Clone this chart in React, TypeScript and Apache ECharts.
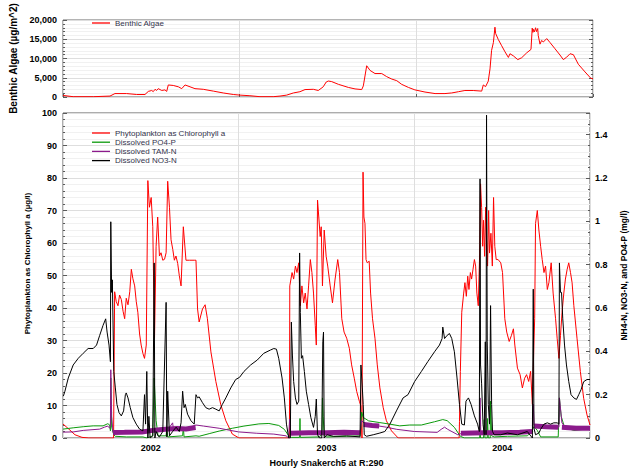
import React, { useEffect, useRef } from 'react';
import * as echarts from 'echarts';

type Pt = [number, number | string];

const yearLabels = ['2002', '2003', '2004'];

const benthicAlgae: Pt[] = [
  [2002.000, 410], [2002.058, 80], [2002.172, 80], [2002.266, 240], [2002.294, 890], [2002.360, 890],
  [2002.417, 650], [2002.464, 650], [2002.483, 1450], [2002.502, 1690], [2002.511, 1400], [2002.521, 2000],
  [2002.530, 1700], [2002.539, 2170], [2002.559, 1700], [2002.577, 1850], [2002.587, 1450], [2002.596, 3130],
  [2002.624, 3000], [2002.653, 2650], [2002.672, 2170], [2002.691, 3130], [2002.719, 2650], [2002.747, 2170],
  [2002.794, 2000], [2002.851, 1530], [2002.907, 1050], [2002.964, 650], [2003.002, 490], [2003.058, 330],
  [2003.115, 80], [2003.190, 80], [2003.228, 240], [2003.266, 490], [2003.304, 1050], [2003.341, 1370],
  [2003.370, 1930], [2003.417, 2000], [2003.445, 1690], [2003.473, 2650], [2003.490, 3900], [2003.502, 4150],
  [2003.521, 4000], [2003.559, 3290], [2003.615, 2490], [2003.653, 2100], [2003.691, 1930], [2003.700, 2890],
  [2003.719, 8120], [2003.738, 6910], [2003.766, 6100], [2003.804, 6100], [2003.832, 5300], [2003.861, 4660],
  [2003.889, 4250], [2003.917, 3290], [2003.955, 2490], [2003.992, 1850], [2004.049, 1290], [2004.106, 890],
  [2004.162, 890], [2004.200, 1050], [2004.238, 1370], [2004.275, 1690], [2004.322, 1690], [2004.370, 1530],
  [2004.379, 3130], [2004.392, 2700], [2004.407, 4100], [2004.417, 7300], [2004.426, 12120], [2004.436, 14130],
  [2004.445, 18150], [2004.449, 16500], [2004.464, 14940], [2004.483, 13330], [2004.502, 11730], [2004.521, 10280],
  [2004.530, 11250], [2004.549, 10700], [2004.574, 9720], [2004.596, 10200], [2004.625, 11490], [2004.649, 12370],
  [2004.656, 17900], [2004.660, 16800], [2004.662, 17600], [2004.668, 16900], [2004.675, 18000], [2004.680, 17000],
  [2004.687, 17800], [2004.690, 16000], [2004.700, 13740], [2004.709, 14700], [2004.719, 14300], [2004.738, 15180],
  [2004.757, 14140], [2004.785, 12530], [2004.813, 10920], [2004.832, 9720], [2004.851, 10360], [2004.870, 11250],
  [2004.889, 11000], [2004.917, 8510], [2004.955, 6510], [2004.987, 4900], [2005.000, 4700],
];

const phytoplankton: Pt[] = [
  [2002.000, 4.3], [2002.028, 3.0], [2002.068, 1.0], [2002.108, 0.2], [2002.147, 0], [2002.288, 0],
  [2002.294, 45], [2002.303, 42], [2002.313, 40.7], [2002.322, 44], [2002.332, 42.6], [2002.342, 39],
  [2002.351, 36.7], [2002.360, 43], [2002.370, 41], [2002.380, 45], [2002.389, 51.9], [2002.398, 49],
  [2002.408, 46.8], [2002.417, 42], [2002.426, 38.7], [2002.436, 32], [2002.445, 28.6], [2002.455, 26],
  [2002.464, 24.5], [2002.474, 28.6], [2002.483, 79.2], [2002.492, 71], [2002.502, 74], [2002.511, 65],
  [2002.521, 30.7], [2002.530, 59], [2002.539, 68], [2002.549, 56], [2002.558, 57], [2002.568, 54.7],
  [2002.578, 55], [2002.587, 57], [2002.596, 79], [2002.606, 71], [2002.615, 61], [2002.625, 58],
  [2002.634, 54.7], [2002.643, 56], [2002.653, 53.7], [2002.662, 50], [2002.672, 46.8], [2002.685, 65],
  [2002.700, 54.7], [2002.719, 54.7], [2002.747, 54.7], [2002.757, 54.7], [2002.766, 39.7], [2002.775, 35.7],
  [2002.794, 39.7], [2002.809, 41], [2002.822, 36.7], [2002.842, 26.5], [2002.870, 17.4], [2002.898, 10.3],
  [2002.927, 5.3], [2002.964, 1.2], [2003.002, 0],
  [2003.289, 0], [2003.291, 46.8], [2003.304, 50.9], [2003.313, 48.9], [2003.323, 52.9], [2003.332, 50.9],
  [2003.342, 53.9], [2003.351, 40.7], [2003.360, 46.8], [2003.370, 41.6], [2003.379, 44.6], [2003.389, 39.7],
  [2003.398, 46.8], [2003.408, 54.9], [2003.417, 50.9], [2003.426, 44.6], [2003.436, 34.7], [2003.442, 28.6],
  [2003.449, 73.2], [2003.456, 68], [2003.464, 62], [2003.470, 65], [2003.477, 46.8], [2003.487, 64],
  [2003.498, 55.9], [2003.507, 52.9], [2003.521, 46.8], [2003.534, 41.6], [2003.549, 48.9], [2003.564, 54.9],
  [2003.574, 50.9], [2003.587, 36.7], [2003.600, 32.6], [2003.615, 30.7], [2003.630, 27.6], [2003.643, 22.5],
  [2003.658, 18.4], [2003.672, 14.3], [2003.687, 11.3], [2003.696, 9.8], [2003.702, 0], [2003.708, 81.8],
  [2003.713, 68], [2003.719, 66], [2003.725, 54.9], [2003.732, 53.9], [2003.743, 54.4], [2003.751, 44.6],
  [2003.762, 36.7], [2003.776, 30.7], [2003.789, 22.5], [2003.804, 15.4], [2003.823, 9.3], [2003.841, 5.3],
  [2003.870, 2.2], [2003.908, 0],
  [2004.255, 0], [2004.257, 5], [2004.262, 20.5], [2004.270, 38.7], [2004.281, 44.6], [2004.288, 47.8],
  [2004.296, 43.6], [2004.304, 49.8], [2004.311, 45.7], [2004.319, 50.9], [2004.326, 48.9], [2004.334, 51.9],
  [2004.342, 54.9], [2004.349, 52.9], [2004.356, 44.6], [2004.364, 40.7], [2004.372, 56.9], [2004.377, 78.2],
  [2004.383, 71], [2004.389, 59], [2004.394, 67], [2004.400, 55.9], [2004.406, 71], [2004.411, 61],
  [2004.417, 52.9], [2004.423, 70], [2004.428, 56.9], [2004.436, 63], [2004.444, 52.9], [2004.451, 74],
  [2004.458, 59], [2004.466, 54.9], [2004.477, 54.9], [2004.492, 53.9], [2004.502, 50.9], [2004.515, 36.7],
  [2004.526, 32.6], [2004.540, 29.7], [2004.553, 31.6], [2004.564, 33.6], [2004.572, 28.6], [2004.587, 21.5],
  [2004.602, 19.5], [2004.615, 15.4], [2004.628, 18.4], [2004.639, 19.5], [2004.651, 17.4], [2004.662, 20.5],
  [2004.672, 10.3], [2004.677, 21.5], [2004.685, 36.7], [2004.690, 66], [2004.700, 70], [2004.709, 64],
  [2004.719, 59], [2004.728, 54.9], [2004.738, 50.9], [2004.747, 52.9], [2004.757, 45.7], [2004.766, 47.8],
  [2004.779, 53.9], [2004.790, 44.6], [2004.804, 36.7], [2004.813, 30.7], [2004.823, 24.5], [2004.832, 31.6],
  [2004.841, 38.7], [2004.851, 44.6], [2004.860, 48.9], [2004.870, 51.9], [2004.879, 53.9], [2004.889, 50.9],
  [2004.898, 47.8], [2004.908, 40.7], [2004.926, 30.7], [2004.945, 20.5], [2004.964, 12.2], [2004.983, 7.1],
  [2005.000, 4.0],
];

const po4P: Pt[] = [
  [2002.000, 0.041], [2002.058, 0.047], [2002.115, 0.052], [2002.172, 0.056], [2002.228, 0.056], [2002.255, 0.066],
  [2002.266, 0.06], [2002.270, 0.033], [2002.272, 0.277], [2002.277, 0.05], [2002.289, 0.015], [2002.298, 0.008],
  [2002.360, 0.005], [2002.455, 0.005], [2002.477, 0], [2002.511, 0.01], [2002.519, 0.277], [2002.530, 0.08],
  [2002.541, 0.01], [2002.587, 0.01], [2002.591, 0.05], [2002.596, 0.005], [2002.681, 0.01], [2002.685, 0.05],
  [2002.689, 0.005], [2002.757, 0.01], [2002.775, 0.008], [2002.832, 0.02], [2002.889, 0.032], [2002.964, 0.045],
  [2003.030, 0.055], [2003.115, 0.065], [2003.172, 0.067], [2003.228, 0.058], [2003.260, 0.04], [2003.285, 0.01],
  [2003.300, 0.003], [2003.347, 0.003], [2003.349, 0.09], [2003.351, 0.003], [2003.460, 0.005], [2003.475, 0.02],
  [2003.477, 0.185], [2003.481, 0.1], [2003.487, 0.01], [2003.502, 0.005], [2003.615, 0.008], [2003.691, 0.01],
  [2003.696, 0.05], [2003.700, 0.12], [2003.709, 0.095], [2003.740, 0.079], [2003.804, 0.071], [2003.861, 0.064],
  [2003.917, 0.056], [2003.974, 0.06], [2004.040, 0.06], [2004.115, 0.075], [2004.162, 0.085], [2004.187, 0.08],
  [2004.228, 0.049], [2004.262, 0.008], [2004.285, 0], [2004.372, 0], [2004.374, 0.07], [2004.377, 0],
  [2004.394, 0], [2004.398, 0.085], [2004.402, 0], [2004.415, 0], [2004.417, 0.09], [2004.421, 0],
  [2004.432, 0], [2004.434, 0.17], [2004.440, 0.01], [2004.455, 0.005], [2004.530, 0.008], [2004.643, 0.01],
  [2004.670, 0.03], [2004.677, 0.05], [2004.690, 0.045], [2004.700, 0.035], [2004.719, 0.005], [2004.819, 0.005],
  [2004.826, 0.185], [2004.836, 0.1], [2004.851, 0.06], [2004.870, 0.045], [2004.908, 0.035], [2004.964, 0.04],
  [2005.000, 0.04],
];

const tamN: Pt[] = [
  [2002.000, 0.027], [2002.058, 0.028], [2002.115, 0.035], [2002.209, 0.041], [2002.236, 0.05], [2002.255, 0.055],
  [2002.266, 0.045], [2002.270, 0.06], [2002.272, 0.315], [2002.277, 0.1], [2002.285, 0.025], [2002.400, 0.025],
  [2002.500, 0.033], [2002.550, 0.04], [2002.600, 0.042], [2002.624, 0.07], [2002.628, 0.045], [2002.700, 0.042],
  [2002.757, 0.06], [2002.800, 0.055], [2002.889, 0.045], [2003.000, 0.028], [2003.100, 0.022], [2003.200, 0.018],
  [2003.270, 0.01], [2003.285, 0.0], [2003.290, 0.087], [2003.296, 0.03], [2003.400, 0.022], [2003.500, 0.022],
  [2003.600, 0.024], [2003.690, 0.02], [2003.700, 0.08], [2003.712, 0.07], [2003.760, 0.06], [2003.800, 0.055],
  [2003.840, 0.05], [2003.900, 0.04], [2004.000, 0.03], [2004.130, 0.026], [2004.153, 0.04], [2004.172, 0.05],
  [2004.190, 0.04], [2004.247, 0.015], [2004.265, 0.02], [2004.372, 0.022], [2004.374, 0.185], [2004.378, 0.03],
  [2004.500, 0.022], [2004.600, 0.025], [2004.672, 0.028], [2004.677, 0.155], [2004.682, 0.06], [2004.750, 0.052],
  [2004.823, 0.05], [2004.826, 0.185], [2004.840, 0.07], [2004.860, 0.05], [2004.920, 0.045], [2005.000, 0.045],
];

// diurnal spread of TAM-N during the growing seasons (drawn as a wide band)
const tamNBand: Pt[] = [
  [2002.285, 0.025], [2002.350, 0.026], [2002.450, 0.028], [2002.500, 0.034], [2002.550, 0.038], [2002.600, 0.042],
  [2002.650, 0.044], [2002.700, 0.042], [2002.755, 0.048], [2002.760, '-'],
  [2003.292, 0.022], [2003.400, 0.024], [2003.500, 0.024], [2003.600, 0.026], [2003.690, 0.024], [2003.700, '-'],
  [2003.712, 0.062], [2003.760, 0.058], [2003.800, 0.055], [2003.810, '-'],
  [2004.265, 0.022], [2004.400, 0.024], [2004.500, 0.024], [2004.600, 0.027], [2004.670, 0.03], [2004.675, '-'],
  [2004.682, 0.055], [2004.750, 0.052], [2004.820, 0.05], [2004.830, '-'],
  [2004.840, 0.05], [2004.920, 0.045], [2005.000, 0.045],
];

const no3N: Pt[] = [
  [2002.002, 0.193], [2002.011, 0.216], [2002.030, 0.277], [2002.058, 0.337], [2002.087, 0.368], [2002.115, 0.391],
  [2002.143, 0.413], [2002.172, 0.413], [2002.191, 0.429], [2002.209, 0.474], [2002.228, 0.520], [2002.243, 0.550],
  [2002.251, 0.489], [2002.262, 0.429], [2002.270, 0.352], [2002.272, 0.998], [2002.277, 0.672], [2002.281, 0.73],
  [2002.289, 0.307], [2002.298, 0.231], [2002.307, 0.155], [2002.319, 0.117], [2002.332, 0.102], [2002.345, 0.125],
  [2002.355, 0.2], [2002.360, 0.208], [2002.370, 0.185], [2002.383, 0.14], [2002.398, 0.094], [2002.417, 0.064],
  [2002.436, 0.041], [2002.455, 0.033], [2002.464, 0.2], [2002.470, 0.064], [2002.477, 0.307], [2002.483, 0],
  [2002.489, 0.1], [2002.496, 0], [2002.511, 0.01], [2002.519, 0.808], [2002.523, 0], [2002.530, 0.03],
  [2002.541, 0.01], [2002.549, 0.005], [2002.568, 0.03], [2002.587, 0.626], [2002.591, 0.005], [2002.596, 0.216],
  [2002.606, 0.01], [2002.624, 0.03], [2002.644, 0.05], [2002.662, 0.03], [2002.672, 0.07], [2002.681, 0.216],
  [2002.689, 0.14], [2002.696, 0.155], [2002.709, 0.11], [2002.728, 0.08], [2002.747, 0.064], [2002.757, 0.2],
  [2002.766, 0.185], [2002.775, 0.19], [2002.794, 0.163], [2002.813, 0.14], [2002.832, 0.133], [2002.851, 0.14],
  [2002.870, 0.133], [2002.889, 0.125], [2002.907, 0.155], [2002.927, 0.185], [2002.955, 0.231], [2002.983, 0.27],
  [2003.005, 0.28], [2003.030, 0.307], [2003.068, 0.337], [2003.106, 0.36], [2003.143, 0.391], [2003.181, 0.406],
  [2003.200, 0.413], [2003.215, 0.41], [2003.228, 0.368], [2003.247, 0.277], [2003.260, 0.185], [2003.272, 0.064],
  [2003.285, 0], [2003.294, 0], [2003.300, 0.535], [2003.306, 0.383], [2003.313, 0.261], [2003.323, 0.185],
  [2003.332, 0.155], [2003.342, 0.17], [2003.347, 0.854], [2003.351, 0.58], [2003.357, 0.368], [2003.364, 0.38],
  [2003.374, 0.307], [2003.385, 0.216], [2003.398, 0.155], [2003.411, 0.094], [2003.426, 0.049], [2003.436, 0.1],
  [2003.442, 0.18], [2003.449, 0.015], [2003.460, 0], [2003.473, 0], [2003.479, 0.444], [2003.483, 0.489],
  [2003.487, 0], [2003.502, 0.015], [2003.540, 0.008], [2003.615, 0.01], [2003.691, 0.005], [2003.696, 0.337],
  [2003.704, 0.231], [2003.709, 0.155], [2003.715, 0.015], [2003.728, 0.008], [2003.766, 0.015], [2003.804, 0.023],
  [2003.832, 0.03], [2003.861, 0.064], [2003.898, 0.125], [2003.936, 0.185], [2003.964, 0.2], [2004.002, 0.261],
  [2004.040, 0.307], [2004.077, 0.353], [2004.115, 0.398], [2004.143, 0.429], [2004.158, 0.459], [2004.162, 0.512],
  [2004.172, 0.459], [2004.187, 0.474], [2004.200, 0.482], [2004.213, 0.459], [2004.228, 0.398], [2004.243, 0.277],
  [2004.257, 0.155], [2004.270, 0.064], [2004.285, 0.06], [2004.294, 0.17], [2004.308, 0.185], [2004.323, 0.155],
  [2004.342, 0.102], [2004.360, 0.064], [2004.370, 0.03], [2004.374, 1.196], [2004.377, 0.337], [2004.383, 0.25],
  [2004.391, 0.064], [2004.398, 0.015], [2004.404, 0.444], [2004.408, 0.015], [2004.411, 1.49], [2004.415, 0.444],
  [2004.421, 0.155], [2004.428, 0.064], [2004.434, 0.611], [2004.440, 0.155], [2004.445, 0.03], [2004.455, 0.015],
  [2004.492, 0.015], [2004.530, 0.023], [2004.587, 0.015], [2004.643, 0.03], [2004.672, 0], [2004.677, 0.687],
  [2004.681, 0.045], [2004.690, 0.015], [2004.709, 0.023], [2004.719, 0.04], [2004.738, 0.064], [2004.757, 0.07],
  [2004.775, 0.064], [2004.794, 0.07], [2004.813, 0.07], [2004.823, 0.064], [2004.826, 0.808], [2004.832, 0.672],
  [2004.838, 0.672], [2004.845, 0.55], [2004.855, 0.429], [2004.866, 0.337], [2004.879, 0.261], [2004.892, 0.2],
  [2004.908, 0.185], [2004.923, 0.178], [2004.936, 0.2], [2004.949, 0.223], [2004.964, 0.26], [2004.983, 0.27],
  [2005.000, 0.27],
];

const FONT = '"Liberation Sans", Arial, sans-serif';
const AXIS_COLOR = '#5a5a5a';
const GRID_COLOR = '#dedede';
const MINOR_GRID = '#f1f1f1';
const RED = '#ff0000';
const GREEN = '#0b9a0b';
const PURPLE = '#8b1a8b';
const BLACK = '#000000';

const labelStyle = { fontFamily: FONT, fontWeight: 'bold' as const, fontSize: 9, color: '#000' };
const legendText = { fontFamily: FONT, fontSize: 8, color: '#34344c', lineHeight: 9 };

function buildOption() {
  const yearFormatter = (v: number) => {
    const frac = v - Math.floor(v);
    if (Math.abs(frac - 0.5) < 1e-6) {
      const idx = Math.floor(v) - 2002;
      return yearLabels[idx] ?? '';
    }
    return '';
  };
  const lineSeries = (name: string, data: Pt[], color: string, x: number, y: number, width = 1) => ({
    type: 'line',
    name,
    data,
    xAxisIndex: x,
    yAxisIndex: y,
    showSymbol: false,
    symbol: 'none',
    connectNulls: false,
    lineStyle: { color, width },
    itemStyle: { color },
    emphasis: { disabled: true },
  });
  return {
    animation: false,
    backgroundColor: '#ffffff',
    textStyle: { fontFamily: FONT },
    grid: [
      { left: 63, right: 43, top: 14, height: 83, show: true, borderColor: AXIS_COLOR, borderWidth: 1, backgroundColor: '#fff' },
      { left: 63, right: 43, top: 113, height: 329, show: true, borderColor: AXIS_COLOR, borderWidth: 1, backgroundColor: '#fff' },
    ],
    legend: [
      {
        data: ['Benthic Algae'],
        left: 92,
        top: 18.5,
        padding: 0,
        icon: 'rect',
        itemWidth: 18,
        itemHeight: 1.3,
        selectedMode: false,
        textStyle: legendText,
      },
      {
        data: ['Phytoplankton as Chlorophyll a', 'Dissolved PO4-P', 'Dissolved TAM-N', 'Dissolved NO3-N'],
        orient: 'vertical',
        left: 92,
        top: 128.5,
        padding: 0,
        icon: 'rect',
        itemWidth: 18,
        itemHeight: 1.3,
        itemGap: 0.2,
        selectedMode: false,
        textStyle: legendText,
      },
    ],
    xAxis: [
      {
        gridIndex: 0, type: 'value', min: 2002, max: 2005, interval: 1,
        axisLine: { show: false },
        axisTick: { show: true, inside: true, length: 3, lineStyle: { color: AXIS_COLOR } },
        axisLabel: { show: false },
        splitLine: { show: true, lineStyle: { color: GRID_COLOR } },
      },
      {
        gridIndex: 1, type: 'value', min: 2002, max: 2005, interval: 1, position: 'bottom',
        axisLine: { show: false },
        axisTick: { show: false },
        axisLabel: { show: false },
        splitLine: { show: true, lineStyle: { color: GRID_COLOR } },
      },
      {
        gridIndex: 1, type: 'value', min: 2002, max: 2005, interval: 0.5, position: 'bottom',
        axisLine: { show: false },
        axisTick: { show: false },
        splitLine: { show: false },
        axisLabel: { ...labelStyle, margin: 5, formatter: yearFormatter },
        name: 'Hourly Snakerch5 at R:290',
        nameLocation: 'middle',
        nameGap: 20,
        nameTextStyle: { ...labelStyle },
      },
    ],
    yAxis: [
      {
        gridIndex: 0, type: 'value', min: 0, max: 20000, interval: 5000, position: 'left',
        axisLine: { show: false },
        axisTick: { show: true, inside: true, length: 4, lineStyle: { color: AXIS_COLOR } },
        minorTick: { show: true, splitNumber: 5, length: 2, lineStyle: { color: AXIS_COLOR } },
        axisLabel: { ...labelStyle, margin: 6 },
        splitLine: { show: true, lineStyle: { color: GRID_COLOR } },
        minorSplitLine: { show: true, lineStyle: { color: MINOR_GRID } },
        name: 'Benthic Algae (µg/m^2)',
        nameLocation: 'middle',
        nameRotate: 90,
        nameGap: 40,
        nameTextStyle: { ...labelStyle, fontSize: 10 },
      },
      {
        gridIndex: 0, type: 'value', min: 0, max: 20000, interval: 5000, position: 'right',
        axisLine: { show: false },
        axisTick: { show: true, inside: true, length: 4, lineStyle: { color: AXIS_COLOR } },
        minorTick: { show: true, splitNumber: 5, length: 2, lineStyle: { color: AXIS_COLOR } },
        axisLabel: { show: false },
        splitLine: { show: false },
      },
      {
        gridIndex: 1, type: 'value', min: 0, max: 100, interval: 10, position: 'left',
        axisLine: { show: false },
        axisTick: { show: true, inside: true, length: 4, lineStyle: { color: AXIS_COLOR } },
        minorTick: { show: true, splitNumber: 5, length: 2, lineStyle: { color: AXIS_COLOR } },
        axisLabel: { ...labelStyle, margin: 6 },
        splitLine: { show: true, lineStyle: { color: GRID_COLOR } },
        minorSplitLine: { show: true, lineStyle: { color: MINOR_GRID } },
        name: 'Phytoplankton as Chlorophyll a (µg/l)',
        nameLocation: 'middle',
        nameRotate: 90,
        nameGap: 21,
        nameTextStyle: { ...labelStyle, fontSize: 8, padding: [0, 0, 0, 24] },
      },
      {
        gridIndex: 1, type: 'value', min: 0, max: 1.5, interval: 0.2, position: 'right',
        axisLine: { show: false },
        axisTick: { show: true, inside: true, length: 4, lineStyle: { color: AXIS_COLOR } },
        minorTick: { show: true, splitNumber: 4, length: 2, lineStyle: { color: AXIS_COLOR } },
        axisLabel: { ...labelStyle, margin: 5, showMaxLabel: false },
        splitLine: { show: false },
        name: 'NH4-N, NO3-N, and PO4-P (mg/l)',
        nameLocation: 'middle',
        nameRotate: 90,
        nameGap: 29,
        nameTextStyle: { ...labelStyle, fontSize: 8.5 },
      },
    ],
    series: [
      lineSeries('Benthic Algae', benthicAlgae, RED, 0, 0),
      lineSeries('Phytoplankton as Chlorophyll a', phytoplankton, RED, 1, 2),
      lineSeries('Dissolved PO4-P', po4P, GREEN, 1, 3),
      lineSeries('Dissolved TAM-N', tamN, PURPLE, 1, 3),
      lineSeries('TAM-N daily range', tamNBand, PURPLE, 1, 3, 5),
      lineSeries('Dissolved NO3-N', no3N, BLACK, 1, 3),
    ],
  };
}

export default function App() {
  const ref = useRef<HTMLDivElement>(null);
  useEffect(() => {
    if (!ref.current) return;
    const chart = echarts.init(ref.current, null, { renderer: 'svg' });
    chart.setOption(buildOption() as any);
    return () => chart.dispose();
  }, []);
  return (
    <div
      ref={ref}
      style={{ position: 'fixed', left: 0, top: 0, width: 636, height: 472, background: '#fff' }}
    />
  );
}
